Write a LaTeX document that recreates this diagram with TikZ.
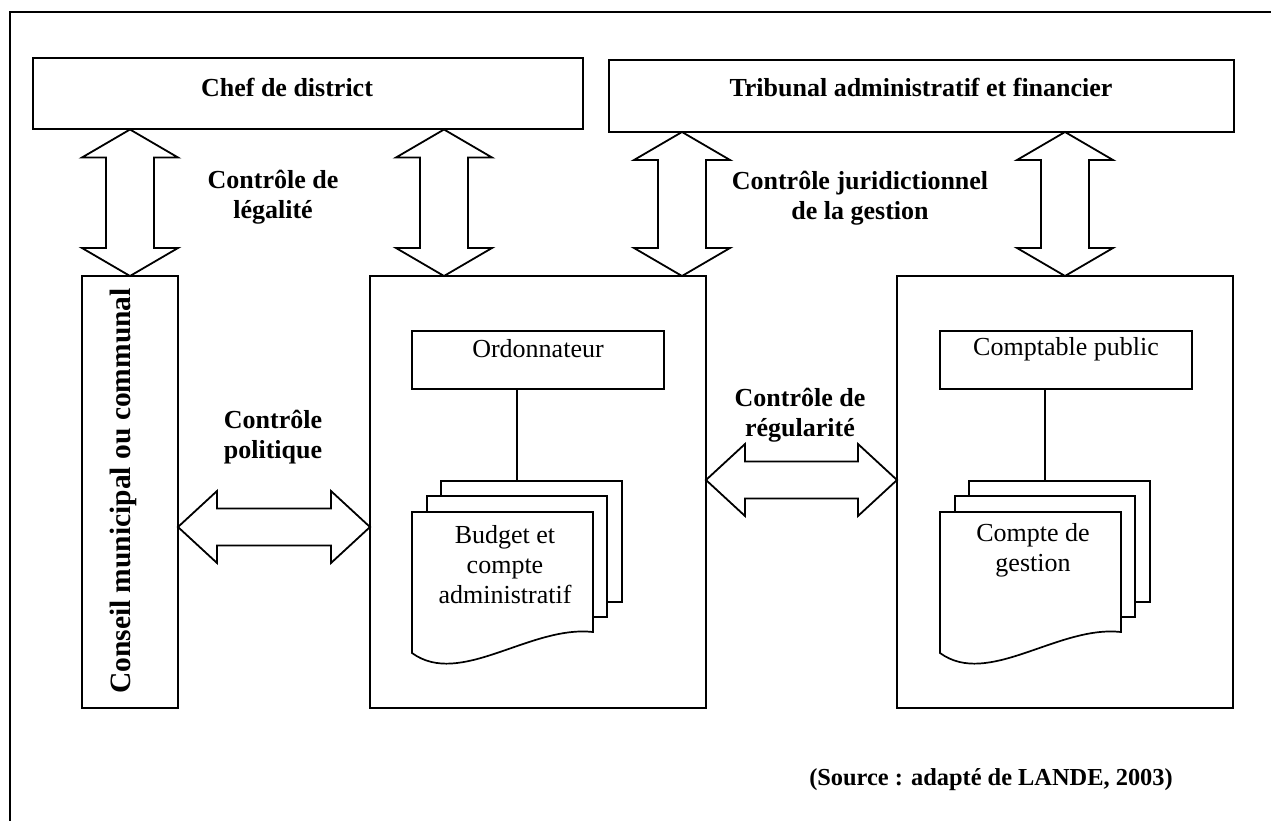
\documentclass[tikz,border=0pt]{standalone}
\usepackage{fontspec}
\setmainfont{Liberation Serif}
\usetikzlibrary{calc}
\newcommand\vdbl[2]{%
  \draw[barrow] let \p1=(#1), \p2=(#2) in
  (\x1,\y1) -- (\x1+48pt,\y1-28pt) -- (\x1+24pt,\y1-28pt) -- (\x1+24pt,\y2+28pt)
  -- (\x1+48pt,\y2+28pt) -- (\x1,\y2) -- (\x1-48pt,\y2+28pt) -- (\x1-24pt,\y2+28pt)
  -- (\x1-24pt,\y1-28pt) -- (\x1-48pt,\y1-28pt) -- cycle;}
\newcommand\hdbl[2]{%
  \draw[barrow] let \p1=(#1), \p2=(#2) in
  (\x1,\y1) -- (\x1+39pt,\y1+36pt) -- (\x1+39pt,\y1+18.5pt) -- (\x2-39pt,\y1+18.5pt)
  -- (\x2-39pt,\y1+36pt) -- (\x2,\y1) -- (\x2-39pt,\y1-36pt) -- (\x2-39pt,\y1-18.5pt)
  -- (\x1+39pt,\y1-18.5pt) -- (\x1+39pt,\y1-36pt) -- cycle;}
\tikzset{
  box/.style={draw, line width=2pt, inner sep=0pt, outer sep=0pt},
  inbox/.style={draw, line width=1.7pt, inner sep=0pt, outer sep=0pt},
  docpage/.style={draw, fill=white, line width=1.7pt, inner sep=0pt, outer sep=0pt},
  barrow/.style={draw, fill=white, line width=1.8pt, line join=miter},
  btxt/.style={font=\fontsize{26}{30}\selectfont\bfseries, align=center, inner sep=0pt},
  rtxt/.style={font=\fontsize{26}{30}\selectfont, align=center, inner sep=0pt},
  conn/.style={line width=1.7pt},
}
\begin{document}
\begin{tikzpicture}[x=1pt, y=-1pt]
\useasboundingbox (0,0) rectangle (1271,821);
% outer frame (cropped)
\draw[line width=2pt] (10,821) -- (10,12) -- (1271,12);

% top boxes
\node[box, minimum width=550pt, minimum height=71.5pt] (chef) at (308,93.75) {};
\node[btxt] (chefT) at (287,87) {Chef de district};
\node[box, minimum width=625pt, minimum height=72pt] (trib) at (921.5,96) {};
\node[btxt] (tribT) at (921,88) {Tribunal administratif et financier};

% lower boxes
\node[box, minimum width=96pt, minimum height=432pt] (conseil) at (130,492) {};
\node[font=\fontsize{29.5}{34}\selectfont\bfseries, rotate=90, inner sep=0pt] (conseilT) at (123,491) {Conseil municipal ou communal};
\node[box, minimum width=336pt, minimum height=432pt] (mid) at (538,492) {};
\node[box, minimum width=336pt, minimum height=432pt] (right) at (1065,492) {};

% inner boxes
\node[inbox, minimum width=252pt, minimum height=58pt] (ord) at (538,360) {};
\node[rtxt] (ordT) at (538,349) {Ordonnateur};
\node[inbox, minimum width=252pt, minimum height=58pt] (comp) at (1066,360) {};
\node[rtxt] (compT) at (1066,349) {Comptable public};

% document stacks (left)
\node[docpage, minimum width=181pt, minimum height=121pt] (dA3) at (531.5,541.5) {};
\node[docpage, minimum width=180pt, minimum height=121pt] (dA2) at (517,556.5) {};
\draw[docpage] (412,512) -- (593,512) -- (593,632) .. controls (530,625) and (460,688) .. (412,653) -- cycle;
\node[rtxt] (dAT) at (505,565) {Budget et\\compte\\administratif};
% document stacks (right)
\node[docpage, minimum width=181pt, minimum height=121pt] (dB3) at (1059.5,541.5) {};
\node[docpage, minimum width=180pt, minimum height=121pt] (dB2) at (1045,556.5) {};
\draw[docpage] (940,512) -- (1121,512) -- (1121,632) .. controls (1058,625) and (988,688) .. (940,653) -- cycle;
\node[rtxt] (dBT) at (1033,550) {Compte de\\gestion};

% links box -> documents
\coordinate (l1) at (517,0);
\coordinate (l2) at (1045,0);
\draw[conn] (ord.south -| l1) -- (dA3.north -| l1);
\draw[conn] (comp.south -| l2) -- (dB3.north -| l2);

% vertical double arrows
\coordinate (v1) at (130,0);
\coordinate (v2) at (444,0);
\coordinate (v3) at (682,0);
\coordinate (v4) at (1065,0);
\vdbl{chef.south -| v1}{conseil.north -| v1}
\vdbl{chef.south -| v2}{mid.north -| v2}
\vdbl{trib.south -| v3}{mid.north -| v3}
\vdbl{trib.south -| v4}{right.north -| v4}

% horizontal double arrows
\coordinate (h1) at (0,527);
\coordinate (h2) at (0,480);
\hdbl{conseil.east |- h1}{mid.west |- h1}
\hdbl{mid.east |- h2}{right.west |- h2}

% labels
\node[btxt] (lblLeg) at (273,197) {Contrôle de\\légalité};
\node[btxt] (lblJur) at (860,198) {Contrôle juridictionnel\\de la gestion};
\node[btxt] (lblPol) at (273,437) {Contrôle\\politique};
\node[btxt] (lblReg) at (800,415) {Contrôle de\\régularité};

\node[font=\fontsize{24.4}{28}\selectfont\bfseries, inner sep=0pt] (src) at (991,780) {(Source : adapté de LANDE, 2003)};
\end{tikzpicture}
\end{document}
